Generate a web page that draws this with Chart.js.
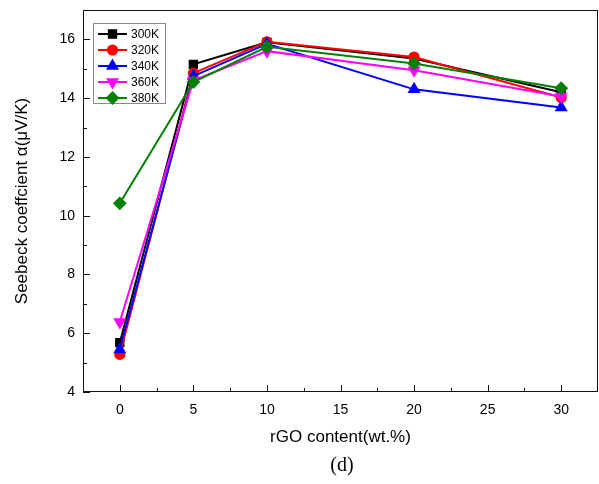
<!DOCTYPE html>
<html>
<head>
<meta charset="utf-8">
<script src="https://cdn.jsdelivr.net/npm/chart.js@4.4.1/dist/chart.umd.min.js"></script>
<style>
  html, body { margin: 0; padding: 0; background: #fff; overflow: hidden; }
  canvas { display: block; }
</style>
</head>
<body>
<canvas id="chart-seebeck" width="599" height="484"></canvas>
<script>
'use strict';
// data
var rgoContent = [0, 5, 10, 20, 30];
var s300K = [5.68, 15.15, 15.9, 15.35, 14.2];
var s320K = [5.28, 14.85, 15.92, 15.4, 14.02];
var s340K = [5.45, 14.75, 15.85, 14.3, 13.68];
var s360K = [6.38, 14.6, 15.6, 14.95, 14.06];
var s380K = [10.42, 14.55, 15.75, 15.18, 14.34];
var seriesNames = ['300K', '320K', '340K', '360K', '380K'];
var xTicks = [0, 5, 10, 15, 20, 25, 30];
var yTicks = [4, 6, 8, 10, 12, 14, 16];

var styles = [
    { color: '#000000', point: 'rect', rot: 0, r: 5.2 },
    { color: '#ff0000', point: 'circle', rot: 0, r: 4.6 },
    { color: '#0000ff', point: 'triangle', rot: 0, r: 5.5 },
    { color: '#ff00ff', point: 'triangle', rot: 180, r: 5.5 },
    { color: '#008000', point: 'rectRot', rot: 0, r: 5.5 }
];
var allSeries = [s300K, s320K, s340K, s360K, s380K];

var datasets = allSeries.map(function(vals, i) {
    return {
        label: seriesNames[i],
        data: rgoContent.map(function(x, j) { return { x: x, y: vals[j] }; }),
        borderColor: styles[i].color,
        backgroundColor: styles[i].color,
        pointStyle: styles[i].point,
        pointRotation: styles[i].rot,
        pointRadius: styles[i].r,
        pointHoverRadius: styles[i].r,
        borderWidth: 2,
        showLine: true,
        tension: 0,
        order: 4 - i
    };
});

// [ frame, inward ticks, legend, caption ] start
var framePlugin = {
    id: 'frame',
    afterDraw: function(chart) {
        var ctx = chart.ctx, a = chart.chartArea;
        var xs = chart.scales.x, ys = chart.scales.y;
        ctx.save();
        ctx.strokeStyle = '#111';
        ctx.lineWidth = 1;
        ctx.strokeRect(a.left + 0.5, a.top + 0.5, a.right - a.left - 1, a.bottom - a.top - 1);
        ctx.beginPath();
        var v, p;
        for (v = 0; v <= 30; v += 2.5) {
            p = Math.round(xs.getPixelForValue(v)) + 0.5;
            var len = (v % 5 === 0) ? 7 : 4;
            ctx.moveTo(p, a.bottom);
            ctx.lineTo(p, a.bottom - len);
        }
        for (v = 4; v <= 17; v += 1) {
            p = Math.round(ys.getPixelForValue(v)) + 0.5;
            var len2 = (v % 2 === 0) ? 7 : 4;
            ctx.moveTo(a.left, p);
            ctx.lineTo(a.left + len2, p);
        }
        ctx.stroke();

        // legend box
        var bx = 93, by = 23, bw = 72, bh = 80;
        ctx.strokeStyle = '#888';
        ctx.strokeRect(bx + 0.5, by + 0.5, bw, bh);
        ctx.font = '12px Arial, "Liberation Sans", sans-serif';
        ctx.textBaseline = 'middle';
        ctx.textAlign = 'left';
        chart.data.datasets.forEach(function(ds, i) {
            var yy = by + 11 + i * 16;
            ctx.strokeStyle = ds.borderColor;
            ctx.fillStyle = ds.backgroundColor;
            ctx.lineWidth = 2;
            ctx.beginPath();
            ctx.moveTo(98, yy);
            ctx.lineTo(127, yy);
            ctx.stroke();
            Chart.helpers.drawPoint(ctx, {
                pointStyle: ds.pointStyle,
                rotation: ds.pointRotation,
                radius: ds.pointRadius,
                borderWidth: 1
            }, 112.5, yy);
            ctx.fillStyle = '#000';
            ctx.fillText(ds.label, 131, yy + 0.5);
        });

        ctx.font = '20px "Times New Roman", "Liberation Serif", serif';
        ctx.textAlign = 'center';
        ctx.fillStyle = '#000';
        ctx.fillText('(d)', 342, 466);
        ctx.restore();
    }
};
// [ frame, inward ticks, legend, caption ] end

var ctx = document.getElementById('chart-seebeck').getContext('2d');
var seebeckChart = new Chart(ctx, {
    type: 'scatter',
    data: { datasets: datasets },
    plugins: [framePlugin],
    options: {
        responsive: false,
        animation: false,
        devicePixelRatio: 1,
        layout: { autoPadding: false, padding: { top: 10, right: 1, left: 0, bottom: 0 } },
        plugins: {
            legend: { display: false },
            tooltip: { enabled: false }
        },
        scales: {
            x: {
                type: 'linear',
                min: -2.5,
                max: 32.5,
                afterBuildTicks: function(scale) {
                    scale.ticks = xTicks.map(function(v) { return { value: v }; });
                },
                afterFit: function(scale) {
                    scale.height = 92;
                    scale.paddingLeft = 0;
                    scale.paddingRight = 0;
                },
                grid: { display: false, drawTicks: false },
                border: { display: false },
                ticks: {
                    padding: 10,
                    color: '#000',
                    font: { family: 'Arial, "Liberation Sans", sans-serif', size: 14 }
                },
                title: {
                    display: true,
                    text: 'rGO content(wt.%)',
                    color: '#000',
                    padding: { bottom: 36 },
                    font: { family: 'Arial, "Liberation Sans", sans-serif', size: 17 }
                }
            },
            y: {
                min: 4,
                max: 17,
                afterBuildTicks: function(scale) {
                    scale.ticks = yTicks.map(function(v) { return { value: v }; });
                },
                afterFit: function(scale) {
                    scale.width = 83;
                    scale.paddingTop = 0;
                    scale.paddingBottom = 0;
                },
                grid: { display: false, drawTicks: false },
                border: { display: false },
                ticks: {
                    padding: 8,
                    color: '#000',
                    font: { family: 'Arial, "Liberation Sans", sans-serif', size: 14 }
                },
                title: {
                    display: true,
                    text: 'Seebeck coeffcient α(μV/K)',
                    color: '#000',
                    padding: { top: 12 },
                    font: { family: 'Arial, "Liberation Sans", sans-serif', size: 17 }
                }
            }
        }
    }
});
</script>
</body>
</html>
